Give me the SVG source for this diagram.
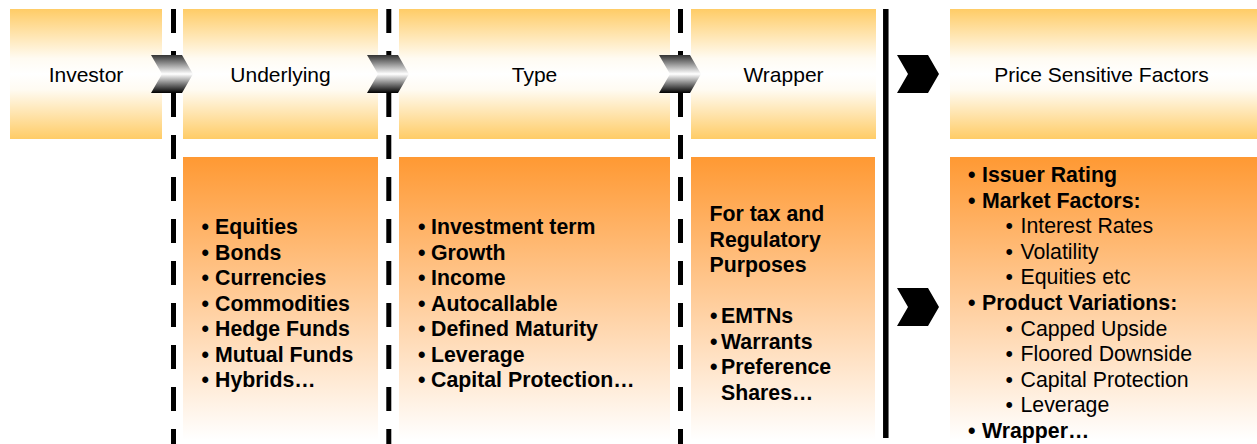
<svg xmlns="http://www.w3.org/2000/svg" width="1257" height="444" viewBox="0 0 1257 444">
  <defs>
    <!-- pale orange stage header: orange edges fading to white in the middle -->
    <linearGradient id="headFill" x1="0" y1="0" x2="0" y2="1">
      <stop offset="0" stop-color="#FFCC66"/>
      <stop offset="0.38" stop-color="#FFFBF2"/>
      <stop offset="0.5" stop-color="#FFFFFF"/>
      <stop offset="0.62" stop-color="#FFFBF2"/>
      <stop offset="1" stop-color="#FFCC66"/>
    </linearGradient>
    <!-- detail panel: strong orange at top fading to white -->
    <linearGradient id="panelFill" x1="0" y1="0" x2="0" y2="1">
      <stop offset="0" stop-color="#FF9933"/>
      <stop offset="1" stop-color="#FFFFFF"/>
    </linearGradient>
    <!-- metallic chevron shading -->
    <linearGradient id="chevFill" x1="0" y1="0" x2="0" y2="1">
      <stop offset="0" stop-color="#333333"/>
      <stop offset="0.5" stop-color="#FFFFFF"/>
      <stop offset="1" stop-color="#000000"/>
    </linearGradient>
    <polygon id="chevron" points="0,0 31,0 42,19 31,38 0,38 11,19"/>
  </defs>
  <style>
    .head { fill: url(#headFill); }
    .panel { fill: url(#panelFill); }
    .label { font-family: "Liberation Sans", Arial, sans-serif; font-size: 21px; fill: #000; text-anchor: middle; }
    .list { font-family: "Liberation Sans", Arial, sans-serif; font-size: 21.3px; fill: #000; }
    .b { font-weight: bold; }
    .dash { stroke: #000; stroke-width: 5; stroke-dasharray: 24 18; fill: none; }
    .solid { stroke: #000; stroke-width: 5.5; fill: none; }
    .chev-metal { fill: url(#chevFill); }
    .chev-black { fill: #000; }
  </style>

  <!-- stage: Investor -->
  <g id="investor">
    <rect class="head" x="10" y="9" width="152" height="130"/>
    <text class="label" x="86" y="82">Investor</text>
  </g>

  <!-- stage: Underlying -->
  <g id="underlying">
    <rect class="head" x="183" y="9" width="195" height="130"/>
    <text class="label" x="280.5" y="82">Underlying</text>
  </g>
  <g id="underlying-detail">
    <rect class="panel" x="183" y="157" width="195" height="283"/>
    <text class="list b">
      <tspan x="201.5" y="234">•</tspan><tspan x="215" y="234">Equities</tspan>
      <tspan x="201.5" y="259.5">•</tspan><tspan x="215" y="259.5">Bonds</tspan>
      <tspan x="201.5" y="285">•</tspan><tspan x="215" y="285">Currencies</tspan>
      <tspan x="201.5" y="310.5">•</tspan><tspan x="215" y="310.5">Commodities</tspan>
      <tspan x="201.5" y="336">•</tspan><tspan x="215" y="336">Hedge Funds</tspan>
      <tspan x="201.5" y="361.5">•</tspan><tspan x="215" y="361.5">Mutual Funds</tspan>
      <tspan x="201.5" y="387">•</tspan><tspan x="215" y="387">Hybrids…</tspan>
    </text>
  </g>

  <!-- stage: Type -->
  <g id="type">
    <rect class="head" x="399" y="9" width="271" height="130"/>
    <text class="label" x="534.5" y="82">Type</text>
  </g>
  <g id="type-detail">
    <rect class="panel" x="399" y="157" width="271" height="283"/>
    <text class="list b">
      <tspan x="418" y="234">•</tspan><tspan x="431" y="234">Investment term</tspan>
      <tspan x="418" y="259.5">•</tspan><tspan x="431" y="259.5">Growth</tspan>
      <tspan x="418" y="285">•</tspan><tspan x="431" y="285">Income</tspan>
      <tspan x="418" y="310.5">•</tspan><tspan x="431" y="310.5">Autocallable</tspan>
      <tspan x="418" y="336">•</tspan><tspan x="431" y="336">Defined Maturity</tspan>
      <tspan x="418" y="361.5">•</tspan><tspan x="431" y="361.5">Leverage</tspan>
      <tspan x="418" y="387">•</tspan><tspan x="431" y="387">Capital Protection…</tspan>
    </text>
  </g>

  <!-- stage: Wrapper -->
  <g id="wrapper">
    <rect class="head" x="691" y="9" width="185" height="130"/>
    <text class="label" x="783.5" y="82">Wrapper</text>
  </g>
  <g id="wrapper-detail">
    <rect class="panel" x="691" y="157" width="184" height="283"/>
    <text class="list b">
      <tspan x="709.5" y="221">For tax and</tspan>
      <tspan x="709.5" y="246.5">Regulatory</tspan>
      <tspan x="709.5" y="272">Purposes</tspan>
      <tspan x="710" y="323">•</tspan><tspan x="721" y="323">EMTNs</tspan>
      <tspan x="710" y="348.5">•</tspan><tspan x="721" y="348.5">Warrants</tspan>
      <tspan x="710" y="374">•</tspan><tspan x="721" y="374">Preference</tspan>
      <tspan x="721" y="399.5">Shares…</tspan>
    </text>
  </g>

  <!-- stage: Price Sensitive Factors -->
  <g id="price-factors">
    <rect class="head" x="950" y="9" width="307" height="130"/>
    <text class="label" x="1101.5" y="82">Price Sensitive Factors</text>
  </g>
  <g id="price-factors-detail">
    <rect class="panel" x="950" y="157" width="307" height="283"/>
    <text class="list">
      <tspan class="b" x="968" y="182">•</tspan><tspan class="b" x="982" y="182">Issuer Rating</tspan>
      <tspan class="b" x="968" y="207.5">•</tspan><tspan class="b" x="982" y="207.5">Market Factors:</tspan>
      <tspan x="1005.5" y="233">•</tspan><tspan x="1020.5" y="233">Interest Rates</tspan>
      <tspan x="1005.5" y="258.5">•</tspan><tspan x="1020.5" y="258.5">Volatility</tspan>
      <tspan x="1005.5" y="284">•</tspan><tspan x="1020.5" y="284">Equities etc</tspan>
      <tspan class="b" x="968" y="310">•</tspan><tspan class="b" x="982" y="310">Product Variations:</tspan>
      <tspan x="1005.5" y="335.5">•</tspan><tspan x="1020.5" y="335.5">Capped Upside</tspan>
      <tspan x="1005.5" y="361">•</tspan><tspan x="1020.5" y="361">Floored Downside</tspan>
      <tspan x="1005.5" y="386.5">•</tspan><tspan x="1020.5" y="386.5">Capital Protection</tspan>
      <tspan x="1005.5" y="412">•</tspan><tspan x="1020.5" y="412">Leverage</tspan>
      <tspan class="b" x="968" y="437.5">•</tspan><tspan class="b" x="982" y="437.5">Wrapper…</tspan>
    </text>
  </g>

  <!-- separators and flow chevrons -->
  <g id="connectors">
    <line class="dash" x1="173.5" y1="9" x2="173.5" y2="444"/>
    <line class="dash" x1="388.8" y1="9" x2="388.8" y2="444"/>
    <line class="dash" x1="680.5" y1="9" x2="680.5" y2="444"/>
    <line class="solid" x1="885.8" y1="9" x2="885.8" y2="438"/>
    <use href="#chevron" class="chev-metal" x="151" y="55"/>
    <use href="#chevron" class="chev-metal" x="367" y="55"/>
    <use href="#chevron" class="chev-metal" x="659" y="55"/>
    <use href="#chevron" class="chev-black" x="897" y="55"/>
    <use href="#chevron" class="chev-black" x="897" y="288"/>
  </g>
</svg>
